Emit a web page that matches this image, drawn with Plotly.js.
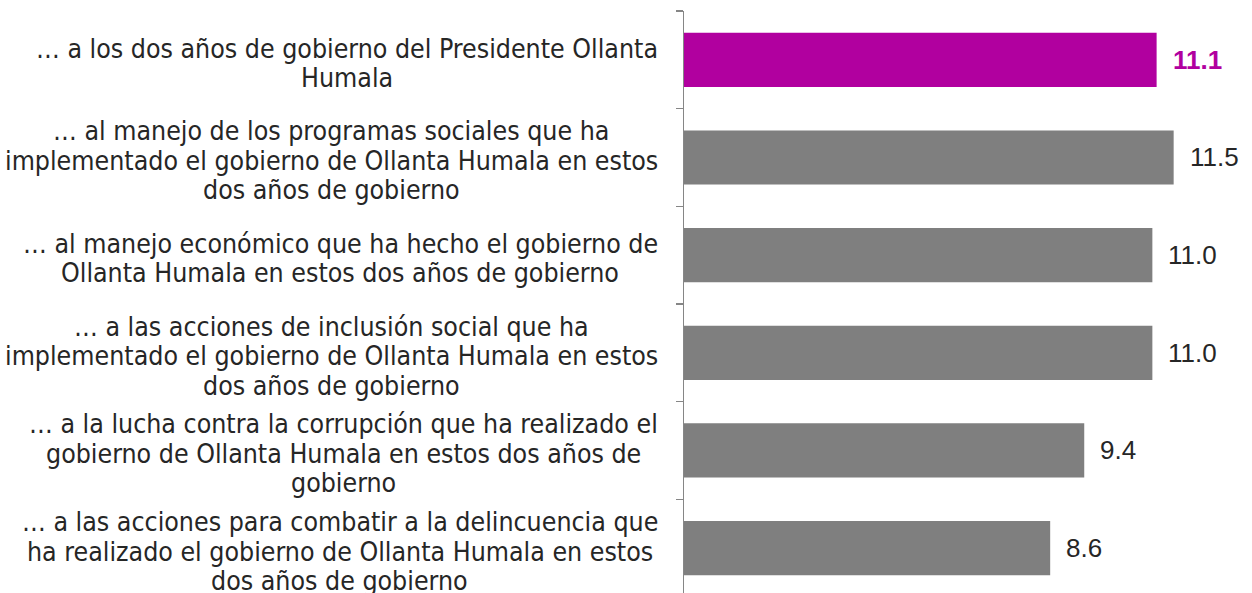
<!DOCTYPE html>
<html><head><meta charset="utf-8">
<script src="https://cdn.plot.ly/plotly-3.0.1.min.js"></script>
<style>body{margin:0;padding:0;background:#fff}#chart{width:1252px;height:593px}</style>
</head><body><div id="chart"></div>
<script>
const categories = [
  "… a los dos años de gobierno del Presidente Ollanta<br>Humala",
  "… al manejo de los programas sociales que ha<br>implementado el gobierno de Ollanta Humala en estos<br>dos años de gobierno",
  "… al manejo económico que ha hecho el gobierno de<br>Ollanta Humala en estos dos años de gobierno",
  "… a las acciones de inclusión social que ha<br>implementado el gobierno de Ollanta Humala en estos<br>dos años de gobierno",
  "… a la lucha contra la corrupción que ha realizado el<br>gobierno de Ollanta Humala en estos dos años de<br>gobierno",
  "… a las acciones para combatir a la delincuencia que<br>ha realizado el gobierno de Ollanta Humala en estos<br>dos años de gobierno"
];
const values = [11.1, 11.5, 11.0, 11.0, 9.4, 8.6];
const valueLabels = ["11.1", "11.5", "11.0", "11.0", "9.4", "8.6"];
const highlightIndex = 0;

const MAGENTA = "#B1009F", GRAY = "#7F7F7F", TEXT = "#262626";
const LABEL_FONT = "DejaVu Sans Condensed", LABEL_SIZE = 26.5, LINE_GAP = 29.5;
const PLOT_LEFT = 684, PLOT_W = 1252 - PLOT_LEFT, LABEL_RIGHT = 658;
const ids = categories.map((c, i) => "c" + i);
const colors = values.map((v, i) => i === highlightIndex ? MAGENTA : GRAY);

const ctx = document.createElement("canvas").getContext("2d");
ctx.font = LABEL_SIZE + "px '" + LABEL_FONT + "'";

const annotations = [];
categories.forEach((c, i) => {
  const lines = c.split("<br>");
  const maxW = Math.max(...lines.map(l => ctx.measureText(l).width));
  const centerPx = LABEL_RIGHT - maxW / 2;
  const n = lines.length;
  lines.forEach((line, k) => {
    annotations.push({
      x: (centerPx - PLOT_LEFT) / PLOT_W, xref: "paper", y: ids[i], yref: "y",
      xanchor: "center", yanchor: "middle", yshift: ((n - 1) / 2 - k) * LINE_GAP - 3,
      text: line, showarrow: false,
      font: {family: LABEL_FONT, size: LABEL_SIZE, color: TEXT}
    });
  });
  annotations.push({
    x: values[i], xref: "x", y: ids[i], yref: "y",
    xanchor: "left", yanchor: "middle", xshift: 14,
    text: i === highlightIndex ? "<b>" + valueLabels[i] + "</b>" : valueLabels[i],
    showarrow: false,
    font: {family: "Liberation Sans", size: 26, color: i === highlightIndex ? MAGENTA : TEXT}
  });
});

Plotly.newPlot("chart", [{
  type: "bar", orientation: "h",
  x: values, y: ids,
  marker: {color: colors},
  hoverinfo: "none"
}], {
  width: 1252, height: 593,
  margin: {l: PLOT_LEFT, r: 0, t: 11, b: 0},
  paper_bgcolor: "#fff", plot_bgcolor: "#fff",
  bargap: 0.445,
  showlegend: false,
  xaxis: {range: [0, 13.34], visible: false, fixedrange: true},
  yaxis: {
    type: "category", categoryorder: "array", categoryarray: ids,
    range: [5.46, -0.5],
    showticklabels: false, showgrid: false, zeroline: false,
    showline: true, linecolor: "#868686", linewidth: 1.3,
    ticks: "outside", tickson: "boundaries", ticklen: 7, tickcolor: "#868686", tickwidth: 1.3
  },
  annotations: annotations
}, {staticPlot: true});
</script></body></html>
